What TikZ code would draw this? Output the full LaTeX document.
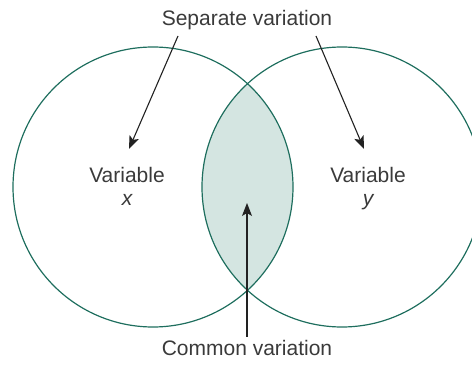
\documentclass[tikz,border=0pt]{standalone}
\usepackage{fontspec}
\setmainfont{Liberation Sans}
\usepackage{xcolor}
\usepackage{tikz}
\usetikzlibrary{arrows.meta,positioning}
\definecolor{venngreen}{HTML}{1E6E5E}
\definecolor{vennfill}{HTML}{D4E5E1}
\definecolor{venntext}{HTML}{3A3A3A}
\definecolor{vennarrow}{HTML}{222222}
\tikzset{
  settext/.style={font=\fontsize{21}{24}\selectfont, text=venntext, inner sep=0pt, anchor=base},
  setring/.style={circle, draw=venngreen, line width=1.2pt, minimum size=280pt, inner sep=0pt},
  lens/.style={fill=vennfill},
  pointer/.style={draw=vennarrow, line width=1.1pt, -{Stealth[length=13pt, width=10pt, inset=3pt]}},
}

\begin{document}
\begin{tikzpicture}[x=1pt, y=-1pt]
  \useasboundingbox (0,0) rectangle (472,366);
  \clip (0,0) rectangle (472,366);
  % shared area
  \begin{scope}
    \clip (153,187) circle (140);
    \fill[lens] (342,187) circle (140);
  \end{scope}
  % circles
  \node[setring] (cx) at (153,187) {};
  \node[setring] (cy) at (342,187) {};
  % labels
  \node[settext] (sep) at (247,26) {Separate variation};
  \node[settext] (com) at (247,356) {Common variation};
  \node[settext] (varx) at (127,183) {Variable};
  \node[settext] (labx) at (127,206) {\itshape x};
  \node[settext] (vary) at (368,183) {Variable};
  \node[settext] (laby) at (368,206) {\itshape y};
  % arrow ends
  \coordinate (sx) at (178,36);
  \coordinate (tx) at (129,149);
  \coordinate (sy) at (316,36);
  \coordinate (ty) at (364,149);
  \coordinate (sc) at (247,337);
  \coordinate (tc) at (247,203);
  % arrows
  \draw[pointer] (sx) -- (tx);
  \draw[pointer] (sy) -- (ty);
  \draw[pointer] (sc) -- (tc);
\end{tikzpicture}
\end{document}
